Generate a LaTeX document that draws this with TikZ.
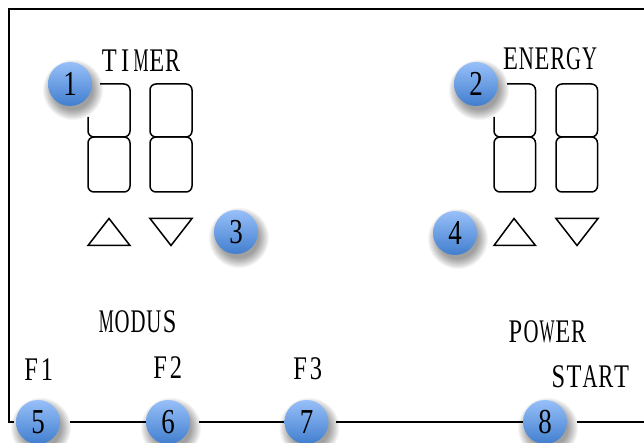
\documentclass[tikz,border=0pt]{standalone}
\usepackage{fontspec}
\newfontfamily\lab[FakeStretch=.74]{Liberation Serif}
\newfontfamily\num[FakeStretch=.77]{Liberation Serif}
\definecolor{btop}{HTML}{98C0F9}
\definecolor{bmid}{HTML}{7BA7E6}
\definecolor{bbot}{HTML}{417ECE}
\usetikzlibrary{calc}
\makeatletter
\newcommand{\fitch}[1]{\setbox0=\hbox{#1}\ifdim\wd0>15pt\resizebox{15pt}{\ht0}{#1}\else\box0\fi}
\newcommand{\pitched}[1]{\@tfor\pch:=#1\do{\makebox[15.8pt][c]{\fitch{\pch}}}}
\makeatother
\tikzset{
  x=1pt,y=-1pt,
  ink/.style={line width=1.5pt,black,rounded corners=6pt,line join=round},
  tri/.style={line width=1.5pt,black,line join=miter},
  rule/.style={line width=1.7pt,black},
  label/.style={inner sep=0pt,font=\lab\fontsize{33}{33}\selectfont,text=black},
  badge/.style={circle,minimum size=44pt,inner sep=0pt,top color=btop,middle color=bmid,bottom color=bbot,font=\num\fontsize{35}{35}\selectfont,text=black}
}
\newcommand{\badgeat}[3]{%
  \foreach \r in {30,29,...,20}{\fill[black,opacity=.04] ($(#2)+(3,6)$) circle (\r pt);}
  \node[badge] (#1) at (#2) {#3};}
\begin{document}
\begin{tikzpicture}
\useasboundingbox (0,0) rectangle (644,443);
\fill[white] (0,0) rectangle (644,443);
% digits
\draw[ink] (100,84)--(130,84)--(130,137)--(88,137)--(88,117);
\draw[ink] (88,137) rectangle (130,192);
\draw[ink] (150,84) rectangle (192,137);
\draw[ink] (150,137) rectangle (192,192);
\draw[ink] (507,84)--(535.5,84)--(535.5,137)--(494,137)--(494,117);
\draw[ink] (494,137) rectangle (535.5,192);
\draw[ink] (556,84) rectangle (597.5,137);
\draw[ink] (556,137) rectangle (597.5,192);
% triangles
\draw[tri] (88,245.5)--(130,245.5)--(109,218.5)--cycle;
\draw[tri] (150,218.5)--(192,218.5)--(171,245.5)--cycle;
\draw[tri] (494,245.5)--(535.5,245.5)--(514,218.5)--cycle;
\draw[tri] (556,218.5)--(598,218.5)--(577,245.5)--cycle;
% labels
\node[label] (timer) at (141,61) {\pitched{TIMER}};
\node[label] (energy) at (550,59) {\pitched{ENERGY}};
\node[label] (modus) at (138,322) {\pitched{MODUS}};
\node[label] (power) at (547,332) {\pitched{POWER}};
\node[label] (start) at (590,377) {\pitched{START}};
\node[label] (f1) at (39,370) {\pitched{F1}};
\node[label] (f2) at (168,368) {\pitched{F2}};
\node[label] (f3) at (308,369) {\pitched{F3}};
% badges
\badgeat{b1}{70,84}{1}
\badgeat{b2}{476,84}{2}
\badgeat{b3}{236,232}{3}
\badgeat{b4}{455,233}{4}
\badgeat{b5}{38,422}{5}
\badgeat{b6}{168,422}{6}
\badgeat{b7}{306.5,422}{7}
\badgeat{b8}{545,422}{8}
% connectors
\coordinate (tl) at (9,9);
\coordinate (tr) at (644,9);
\coordinate (bl) at (9,422);
\coordinate (br) at (644,422);
\draw[rule] (tr)--(tl)--(bl)--(14,422);
\draw[rule,shorten <=10pt] (b5.east)--(b6.west);
\draw[rule,shorten <=9pt] (b6.east)--(b7.west);
\draw[rule,shorten <=7pt] (b7.east)--(b8.west);
\draw[rule,shorten <=10pt] (b8.east)--(br);
\end{tikzpicture}
\end{document}
